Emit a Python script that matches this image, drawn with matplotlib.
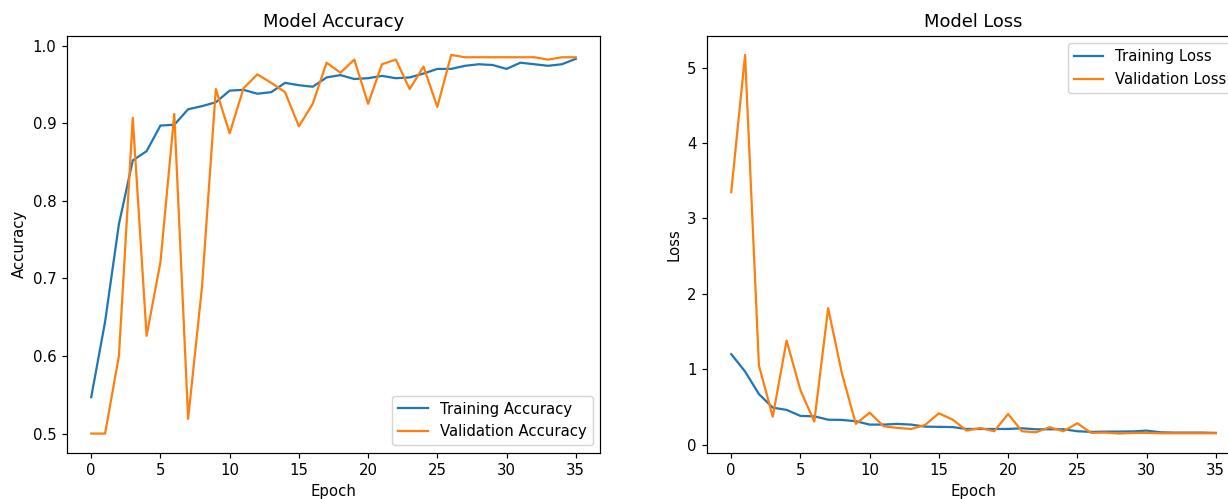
import matplotlib
matplotlib.use("Agg")
import matplotlib.pyplot as plt

epochs = list(range(36))
train_acc = [0.547, 0.644, 0.770, 0.852, 0.864, 0.897, 0.898, 0.918, 0.922, 0.927,
             0.942, 0.943, 0.938, 0.940, 0.952, 0.949, 0.947, 0.959, 0.962, 0.957,
             0.958, 0.961, 0.958, 0.959, 0.964, 0.970, 0.970, 0.974, 0.976, 0.975,
             0.970, 0.978, 0.976, 0.974, 0.976, 0.983]
val_acc = [0.500, 0.500, 0.600, 0.907, 0.626, 0.721, 0.912, 0.519, 0.689, 0.944,
           0.887, 0.945, 0.963, 0.952, 0.940, 0.896, 0.925, 0.978, 0.965, 0.982,
           0.925, 0.976, 0.982, 0.944, 0.973, 0.921, 0.988, 0.985, 0.985, 0.985,
           0.985, 0.985, 0.985, 0.982, 0.985, 0.985]
train_loss = [1.20, 0.97, 0.67, 0.49, 0.46, 0.38, 0.375, 0.33, 0.327, 0.31,
              0.265, 0.265, 0.274, 0.265, 0.238, 0.235, 0.232, 0.207, 0.207, 0.207,
              0.207, 0.216, 0.203, 0.203, 0.203, 0.177, 0.168, 0.172, 0.172, 0.175,
              0.185, 0.163, 0.159, 0.159, 0.159, 0.155]
val_loss = [3.35, 5.17, 1.05, 0.37, 1.38, 0.72, 0.305, 1.81, 0.94, 0.274,
            0.424, 0.243, 0.221, 0.207, 0.26, 0.415, 0.331, 0.185, 0.22, 0.177,
            0.406, 0.177, 0.163, 0.23, 0.177, 0.283, 0.155, 0.159, 0.146, 0.155,
            0.155, 0.15, 0.15, 0.15, 0.15, 0.15]

W, H = 1228, 499
DPI = 107.4
fig = plt.figure(figsize=(W / DPI, H / DPI), dpi=DPI)
ax1 = fig.add_axes([67 / W, (H - 452.5) / H, 533 / W, 416.5 / H])
ax2 = fig.add_axes([707 / W, (H - 452.5) / H, 533 / W, 416.5 / H])

ax1.plot(epochs, train_acc, label="Training Accuracy")
ax1.plot(epochs, val_acc, label="Validation Accuracy")
ax1.set_title("Model Accuracy")
ax1.set_xlabel("Epoch")
ax1.set_ylabel("Accuracy")
ax1.legend(loc="lower right")

ax2.plot(epochs, train_loss, label="Training Loss")
ax2.plot(epochs, val_loss, label="Validation Loss")
ax2.set_title("Model Loss")
ax2.set_xlabel("Epoch")
ax2.set_ylabel("Loss")
ax2.legend(loc="upper right")

fig.savefig("out.png", dpi=DPI)
